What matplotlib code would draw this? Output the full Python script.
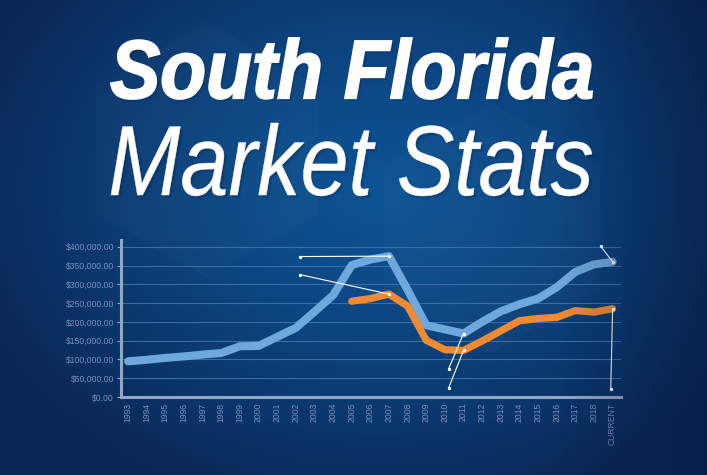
import numpy as np
import matplotlib
matplotlib.use('Agg')
import matplotlib.pyplot as plt
from matplotlib.font_manager import FontProperties
from matplotlib.textpath import TextPath
from matplotlib.patches import PathPatch, RegularPolygon
from matplotlib.transforms import Affine2D

W, H = 707, 475

YEARS = ['1993', '1994', '1995', '1996', '1997', '1998', '1999', '2000', '2001',
         '2002', '2003', '2004', '2005', '2006', '2007', '2008', '2009', '2010',
         '2011', '2012', '2013', '2014', '2015', '2016', '2017', '2018', 'CURRENT']

BLUE_VALUES = [95000, 99000, 104000, 108000, 113000, 117000, 135000, 136000, 160000,
               184000, 227000, 271000, 351000, 366000, 375000, 285000, 191000, 180000,
               169000, 200000, 228000, 247000, 262000, 292000, 333000, 353000, 360000]

ORANGE_VALUES = [np.nan] * 12 + [255000, 262000, 274000, 242000, 151000, 126000,
                                 124000, 149000, 176000, 203000, 209000, 212000,
                                 230000, 226000, 235000]

Y_TICKS = [0, 50000, 100000, 150000, 200000, 250000, 300000, 350000, 400000]

# leader lines: free end (x index, value) -> point on a series at year index
CALLOUTS = [(9.2, 374000, 'blue', 14),
            (9.2, 326000, 'orange', 14),
            (17.2, 75000, 'blue', 18),
            (17.2, 24000, 'orange', 18),
            (25.35, 402000, 'blue', 26),
            (25.9, 22000, 'orange', 26)]

TITLE_1 = 'South Florida'
TITLE_2 = 'Market Stats'

BLUE = '#6ea8dc'
ORANGE = '#f08a33'
AXIS_COL = '#8fa7c8'
TICK_COL = '#7590bd'
GRID_COL = '#3b6ca5'

NARROW = ['Liberation Sans Narrow', 'Liberation Sans', 'DejaVu Sans']


def make_background():
    yy, xx = np.mgrid[0:H, 0:W]
    d = np.sqrt(((xx - 380) / 430.0) ** 2 + ((yy - 190) / 330.0) ** 2)
    d = np.clip(d, 0, 1) ** 1.4
    inner = np.array([0x0d, 0x52, 0x92]) / 255
    outer = np.array([0x0a, 0x26, 0x56]) / 255
    return inner * (1 - d[..., None]) + outer * d[..., None]


def make_overlay():
    xx = np.tile(np.arange(W), (H, 1))
    alpha = np.clip((xx - 560) / 147.0, 0, 1) * 0.45
    img = np.zeros((H, W, 4))
    img[..., 0] = 0x06 / 255
    img[..., 1] = 0x18 / 255
    img[..., 2] = 0x3c / 255
    img[..., 3] = alpha
    return img


def draw_title_line(ax, text, fp, box, stroke):
    x0, y0, x1, y1 = box
    tp = TextPath((0, 0), text, size=100, prop=fp)
    ext = tp.get_extents()
    sx = (x1 - x0) / ext.width
    sy = (y1 - y0) / ext.height
    tr = Affine2D().translate(-ext.x0, -ext.y0).scale(sx, sy).translate(x0, H - y1)
    path = tr.transform_path(tp)
    for k in range(1, 5):
        shadow = Affine2D().translate(k * 0.8, -k * 0.8).transform_path(path)
        ax.add_patch(PathPatch(shadow, fc='#020c20', ec='none', alpha=0.06))
    ax.add_patch(PathPatch(path, fc='white', ec='white', lw=stroke))


def main():
    fig = plt.figure(figsize=(W / 100, H / 100), dpi=100)

    bg = fig.add_axes([0, 0, 1, 1], zorder=0)
    bg.imshow(make_background(), extent=(0, W, 0, H), origin='upper', aspect='auto')
    bg.set_xlim(0, W)
    bg.set_ylim(0, H)
    bg.axis('off')

    for cx, cy, r in [(207, 150, 128), (492, 228, 125)]:
        bg.add_patch(RegularPolygon((cx, H - cy), numVertices=6, radius=r,
                                    fc='white', ec='none', alpha=0.02))

    ax = fig.add_axes([121 / W, 1 - 397 / H, 500 / W, 157 / H], zorder=1)
    ax.patch.set_alpha(0)
    x = np.arange(len(YEARS))
    series = {'blue': np.array(BLUE_VALUES, dtype=float),
              'orange': np.array(ORANGE_VALUES, dtype=float)}

    ax.plot(x, series['blue'], color=BLUE, lw=5.8, solid_capstyle='round',
            solid_joinstyle='round', zorder=3)
    ax.plot(x, series['orange'], color=ORANGE, lw=5.2, solid_capstyle='round',
            solid_joinstyle='round', zorder=4)

    for fx, fy, name, idx in CALLOUTS:
        ty = series[name][idx]
        ax.plot([fx, idx], [fy, ty], color='white', lw=0.8, zorder=5)
        ax.plot([fx, idx], [fy, ty], 'o', color='white', ms=2.4, mew=0, zorder=6)

    ax.set_xlim(-0.38, 26.45)
    ax.set_ylim(0, 418000)
    ax.set_yticks(Y_TICKS)
    ax.set_yticklabels([f'${v:,.2f}' for v in Y_TICKS])
    ax.set_xticks(x)
    ax.set_xticklabels(YEARS, rotation=90)
    for lab in ax.get_xticklabels() + ax.get_yticklabels():
        lab.set_fontfamily(NARROW)
        lab.set_fontsize(6.2)
        lab.set_color(TICK_COL)
    ax.tick_params(axis='y', length=3, width=0.8, color=AXIS_COL, pad=2)
    ax.tick_params(axis='x', length=0, pad=4)
    ax.grid(axis='y', color=GRID_COL, lw=0.8)
    ax.set_axisbelow(True)
    for side in ['top', 'right']:
        ax.spines[side].set_visible(False)
    for side in ['left', 'bottom']:
        ax.spines[side].set_color(AXIS_COL)
        ax.spines[side].set_linewidth(2.2)

    ov = fig.add_axes([0, 0, 1, 1], zorder=3)
    ov.imshow(make_overlay(), extent=(0, W, 0, H), origin='upper', aspect='auto')
    ov.set_xlim(0, W)
    ov.set_ylim(0, H)
    ov.axis('off')

    # title sits above the dark right-hand vignette
    fp_bold = FontProperties(family=NARROW, weight='bold', style='italic')
    fp_reg = FontProperties(family=NARROW, weight='normal', style='italic')
    draw_title_line(ov, TITLE_1, fp_bold, (111, 38, 592, 99), 1.4)
    draw_title_line(ov, TITLE_2, fp_reg, (111, 123, 592, 196), 0.3)

    fig.savefig('out.png', dpi=100)
    plt.close(fig)


if __name__ == '__main__':
    main()
